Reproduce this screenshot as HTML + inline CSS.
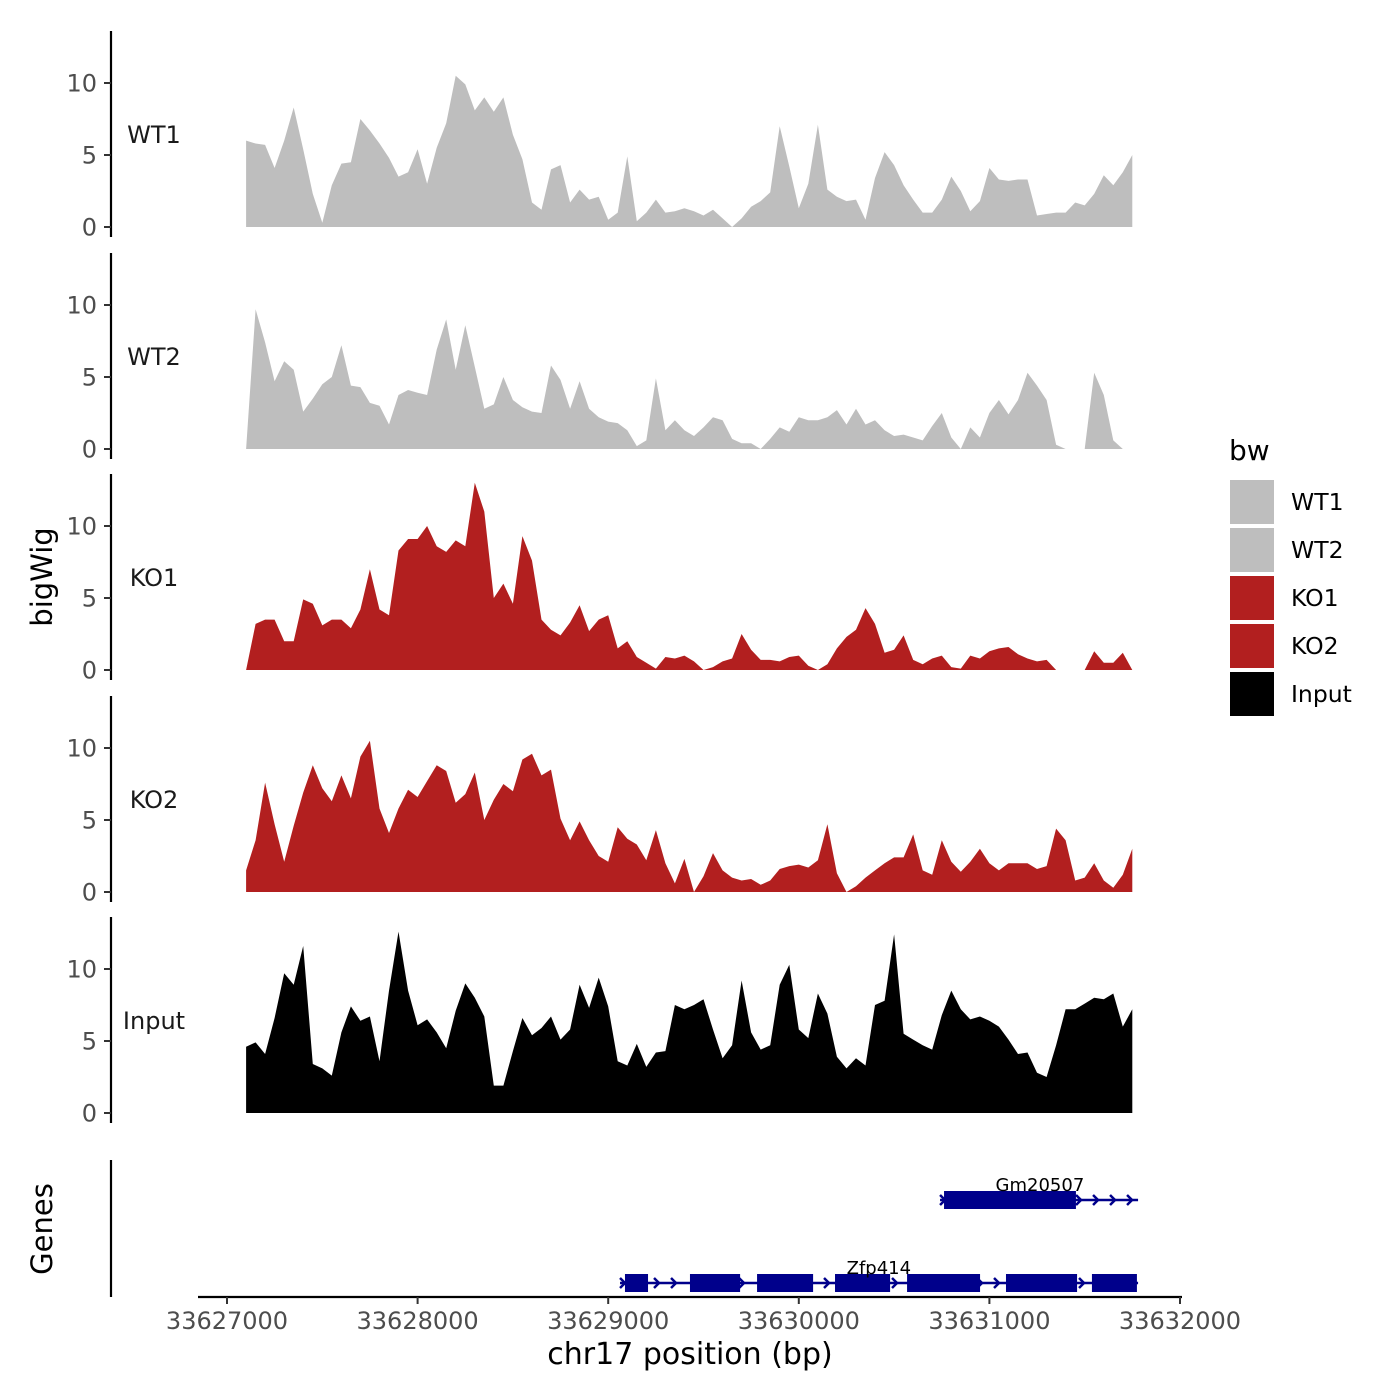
<!DOCTYPE html>
<html><head><meta charset="utf-8"><style>
html,body{margin:0;padding:0;background:#fff;}
svg{display:block;font-family:"DejaVu Sans","Liberation Sans",sans-serif;}
</style></head><body>
<svg id="chart" width="1400" height="1400" viewBox="0 0 1400 1400" xmlns="http://www.w3.org/2000/svg">
<rect width="1400" height="1400" fill="#fff"/>
<g id="tracks"></g>
<g id="genes"></g>
<g id="xaxis"></g>
<text x="52" y="577" transform="rotate(-90 52 577)" text-anchor="middle" font-size="29" fill="#000">bigWig</text>
<text x="52" y="1229" transform="rotate(-90 52 1229)" text-anchor="middle" font-size="29" fill="#000">Genes</text>
<text x="690" y="1364" text-anchor="middle" font-size="30" fill="#000">chr17 position (bp)</text>
<g id="legend"></g>
</svg>
<script>
const trackNames = ["WT1","WT2","KO1","KO2","Input"];
const trackColors = ["#bebebe","#bebebe","#b21f1f","#b21f1f","#000000"];
const dataStart = 33627100;
const dataEnd = 33631750;
const wt1 = [6.0,5.8,5.7,4.1,6.0,8.3,5.4,2.3,0.3,2.9,4.4,4.5,7.5,6.7,5.8,4.8,3.5,3.8,5.4,3.0,5.5,7.2,10.5,9.9,8.1,9.0,8.0,9.0,6.4,4.7,1.7,1.2,4.0,4.3,1.7,2.6,1.9,2.1,0.5,1.0,4.9,0.4,1.0,1.9,1.0,1.1,1.3,1.1,0.8,1.2,0.6,0,0.6,1.4,1.8,2.4,7.0,4.2,1.3,3.0,7.1,2.6,2.1,1.8,1.9,0.5,3.4,5.2,4.3,2.9,1.9,1.0,1.0,1.9,3.5,2.5,1.1,1.8,4.1,3.3,3.2,3.3,3.3,0.8,0.9,1.0,1.0,1.7,1.5,2.3,3.6,2.9,3.8,5.0];
const wt2 = [0,9.7,7.4,4.7,6.1,5.5,2.6,3.5,4.5,5.0,7.2,4.4,4.3,3.2,3.0,1.7,3.75,4.1,3.9,3.75,6.9,9.0,5.5,8.6,5.7,2.8,3.1,5.0,3.4,2.9,2.6,2.5,5.8,4.8,2.8,4.7,2.8,2.2,1.9,1.8,1.3,0.2,0.6,4.9,1.3,2.0,1.3,0.9,1.5,2.2,2.0,0.7,0.4,0.4,0,0.7,1.5,1.2,2.2,2.0,2.0,2.2,2.7,1.7,2.8,1.7,2.0,1.3,0.9,1.0,0.8,0.6,1.6,2.5,0.8,0,1.5,0.8,2.5,3.4,2.4,3.4,5.3,4.4,3.4,0.3,0,0,0,5.3,3.75,0.6,0,0];
const ko1 = [0,3.2,3.5,3.5,2.0,2.0,4.9,4.6,3.1,3.5,3.5,2.9,4.2,7.0,4.2,3.8,8.3,9.1,9.1,10.0,8.6,8.2,9.0,8.6,13.0,11.0,5.0,6.0,4.6,9.3,7.6,3.5,2.8,2.4,3.3,4.5,2.7,3.5,3.8,1.5,2.0,0.9,0.5,0.1,0.9,0.8,1.0,0.6,0,0.2,0.6,0.8,2.5,1.4,0.7,0.7,0.6,0.9,1.0,0.3,0,0.4,1.5,2.3,2.8,4.3,3.2,1.2,1.4,2.4,0.7,0.4,0.8,1.0,0.2,0.1,1.0,0.8,1.3,1.5,1.6,1.1,0.8,0.6,0.7,0,0,0,0,1.3,0.5,0.5,1.2,0];
const ko2 = [1.5,3.6,7.6,4.7,2.1,4.6,6.9,8.8,7.2,6.3,8.1,6.5,9.4,10.5,5.8,4.1,5.8,7.1,6.6,7.7,8.8,8.4,6.2,6.8,8.3,5.0,6.4,7.5,7.0,9.2,9.6,8.1,8.5,5.1,3.6,4.9,3.6,2.5,2.1,4.5,3.7,3.3,2.2,4.3,2.0,0.6,2.3,0,1.1,2.7,1.5,1.0,0.8,0.9,0.5,0.8,1.6,1.8,1.9,1.7,2.2,4.7,1.3,0,0.4,1.0,1.5,2.0,2.4,2.4,4.0,1.5,1.2,3.6,2.1,1.4,2.1,3.0,2.0,1.5,2.0,2.0,2.0,1.6,1.8,4.4,3.6,0.8,1.0,2.0,0.8,0.3,1.2,3.0];
const input = [4.6,4.9,4.1,6.6,9.7,8.9,11.6,3.4,3.1,2.6,5.6,7.4,6.4,6.7,3.6,8.5,12.6,8.5,6.1,6.5,5.6,4.5,7.1,9.0,8.0,6.7,1.9,1.9,4.3,6.6,5.4,5.9,6.7,5.1,5.8,8.9,7.3,9.4,7.4,3.6,3.3,4.8,3.2,4.2,4.3,7.5,7.2,7.5,7.9,5.8,3.8,4.7,9.2,5.6,4.4,4.7,8.9,10.3,5.8,5.2,8.3,6.9,3.9,3.1,3.8,3.3,7.5,7.8,12.4,5.5,5.1,4.7,4.4,6.8,8.5,7.2,6.5,6.7,6.4,6.0,5.1,4.1,4.2,2.8,2.5,4.7,7.2,7.2,7.6,8.0,7.9,8.3,6.0,7.2];
const trackValues = [wt1, wt2, ko1, ko2, input];
const yTicks = [0,5,10];
const xTicks = [33627000,33628000,33629000,33630000,33631000,33632000];
const gmExons = [[33630762,33631454]];
const gmSpan = [33630741,33631780];
const zfpExons = [[33629088,33629209],[33629429,33629692],[33629781,33630075],[33630190,33630479],[33630568,33630951],[33631087,33631460],[33631538,33631774]];
const zfpSpan = [33629062,33631780];

const NS = "http://www.w3.org/2000/svg";
function mk(tag, attrs, parent, text){
  const e = document.createElementNS(NS, tag);
  for (const k in attrs) e.setAttribute(k, attrs[k]);
  if (text !== undefined) e.textContent = text;
  parent.appendChild(e);
  return e;
}
const xScale = bp => 227 + (bp - 33627000) * (1180 - 227) / 5000;
const panelZero = [227, 449, 670, 892, 1113];
const yUnit = 14.4;
const yScale = (k, v) => panelZero[k] - v * yUnit;

const tracksG = document.getElementById('tracks');
trackValues.forEach((vals, k) => {
  const g = mk('g', {}, tracksG);
  
  
  const n = vals.length;
  let d = 'M' + xScale(dataStart).toFixed(1) + ' ' + panelZero[k];
  vals.forEach((v, i) => {
    const bp = dataStart + (dataEnd - dataStart) * i / (n - 1);
    d += ' L' + xScale(bp).toFixed(1) + ' ' + yScale(k, v).toFixed(1);
  });
  d += ' L' + xScale(dataEnd).toFixed(1) + ' ' + panelZero[k] + ' Z';
  const p = mk('path', {d: d, fill: trackColors[k]}, g);
  
  
  const ax = mk('line', {x1: 111, x2: 111, y1: panelZero[k] - 196, y2: panelZero[k] + 10, stroke: '#000', 'stroke-width': 2.2}, g);
  
  
  yTicks.forEach(t => {
    const y = yScale(k, t);
    const tk = mk('line', {x1: 104, x2: 111, y1: y, y2: y, stroke: '#333', 'stroke-width': 2}, g);
    
    
    const tl = mk('text', {x: 97, y: y + 8.5, 'text-anchor': 'end', 'font-size': 24, fill: '#4d4d4d'}, g, String(t));
    
    
  });
  const lab = mk('text', {x: 154, y: panelZero[k] - 84, 'text-anchor': 'middle', 'font-size': 24, fill: '#1a1a1a'}, g, trackNames[k]);
  
  
});

const genesG = document.getElementById('genes');
const gax = mk('line', {x1: 111, x2: 111, y1: 1160, y2: 1297, stroke: '#000', 'stroke-width': 2.2}, genesG);


function drawGene(name, span, exons, yc, labelBp){
  const g = mk('g', {}, genesG);
  
  
  mk('line', {x1: xScale(span[0]), x2: xScale(span[1]), y1: yc, y2: yc, stroke: '#00008b', 'stroke-width': 2.5}, g);
  exons.forEach(e => {
    const r = mk('rect', {x: xScale(e[0]), y: yc - 9, width: xScale(e[1]) - xScale(e[0]), height: 18, fill: '#00008b'}, g);
    
    
  });
  const x0 = xScale(span[0]), x1 = xScale(span[1]);
  for (let x = x0 + 4; x <= x1; x += 17) {
    const inside = exons.some(e => x > xScale(e[0]) + 2 && x < xScale(e[1]) - 2);
    if (inside) continue;
    mk('path', {d: `M${x-4} ${yc-5} L${x+1} ${yc} L${x-4} ${yc+5}`, fill: 'none', stroke: '#00008b', 'stroke-width': 2.5}, g);
  }
  const t = mk('text', {x: xScale(labelBp), y: yc - 9, 'text-anchor': 'middle', 'font-size': 18, fill: '#000'}, g, name);
  
  
}
drawGene('Gm20507', gmSpan, gmExons, 1200, 33631265);
drawGene('Zfp414', zfpSpan, zfpExons, 1283, 33630420);

const xg = document.getElementById('xaxis');
const xl = mk('line', {x1: 198, x2: 1182, y1: 1297, y2: 1297, stroke: '#000', 'stroke-width': 2.2}, xg);


xTicks.forEach(t => {
  const x = xScale(t);
  const tk = mk('line', {x1: x, x2: x, y1: 1297, y2: 1304, stroke: '#333', 'stroke-width': 2}, xg);
  
  
  const tl = mk('text', {x: x, y: 1329, 'text-anchor': 'middle', 'font-size': 24, fill: '#4d4d4d'}, xg, String(t));
  
  
});

const lg = document.getElementById('legend');
const lt = mk('text', {x: 1229, y: 460, 'font-size': 28, fill: '#000'}, lg, 'bw');


trackNames.forEach((nm, i) => {
  const y = 480 + i * 48;
  const r = mk('rect', {x: 1230, y: y, width: 44, height: 44, fill: trackColors[i]}, lg);
  
  
  const t = mk('text', {x: 1291, y: y + 30, 'font-size': 23.5, fill: '#000'}, lg, nm);
  
  
});
</script>
</body></html>
